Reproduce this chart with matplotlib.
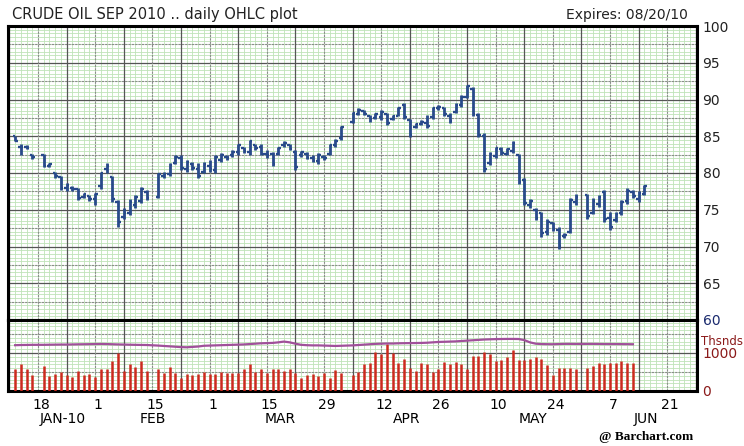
import numpy as np
import pandas as pd
import matplotlib
matplotlib.use('Agg')
import matplotlib.pyplot as plt
import matplotlib.transforms as mtransforms

# trading days shown (holidays leave an empty slot)
start, price_end, vol_end = '2010-01-12', '2010-06-15', '2010-06-11'
holidays = ['2010-01-18', '2010-02-15', '2010-04-02', '2010-05-31']

highs = [85.0, 83.9, 83.8, 82.6,
         82.6, 81.4, 80.1, 79.6, 78.7, 78.2, 78.0, 77.3, 77.0, 77.3,
         80.2, 81.3, 79.6, 76.3, 75.2, 76.4, 77.0, 78.1, 77.7,
         80.0, 80.2, 81.3, 82.5, 82.4, 81.8, 81.5, 81.3, 81.5, 81.8,
         82.4, 82.7, 82.4, 83.1, 84.0, 83.6, 84.5, 84.0, 84.0, 83.1,
         82.9, 83.6, 84.3, 84.0, 83.1, 83.0, 82.9, 82.4, 82.7, 82.4,
         84.0, 84.6, 86.4,
         88.3, 88.8, 88.6, 87.9, 88.1, 88.6, 88.1, 87.9, 89.0, 89.5,
         87.4, 86.8, 87.2, 87.9, 89.0, 89.2, 89.0, 88.1, 89.5, 90.6,
         92.0, 91.7, 88.1, 85.4, 82.9, 83.6, 83.6, 83.4, 84.3, 82.6,
         79.3, 76.5, 75.2, 74.7, 73.8, 73.4, 72.6, 71.8, 76.6, 77.2,
         77.2, 76.6, 77.0, 77.7, 74.7, 74.7, 76.3, 77.9, 77.7, 77.5, 78.4]
lows = [84.3, 82.4, 83.3, 81.9,
        80.8, 80.8, 79.3, 77.7, 77.5, 77.6, 76.3, 76.6, 76.2, 75.6,
        77.8, 80.0, 76.1, 72.6, 73.8, 74.3, 75.2, 75.9, 76.3,
        76.6, 79.3, 79.6, 81.2, 80.4, 80.2, 80.4, 79.3, 80.0, 80.2,
        80.0, 81.5, 81.8, 82.2, 82.4, 82.7, 82.4, 83.1, 82.4, 82.0,
        80.9, 82.4, 83.6, 83.1, 80.4, 82.2, 81.9, 81.5, 81.2, 81.8,
        82.4, 83.6, 84.5,
        86.8, 87.9, 87.9, 87.0, 87.4, 87.2, 86.5, 87.2, 87.7, 87.4,
        84.9, 86.1, 86.5, 86.1, 87.4, 88.6, 87.7, 86.8, 88.1, 89.0,
        90.2, 87.7, 84.9, 80.2, 81.1, 82.0, 82.4, 82.4, 82.7, 78.5,
        75.6, 75.2, 73.6, 71.3, 71.6, 72.1, 69.7, 71.2, 71.8, 75.6,
        73.8, 74.4, 75.4, 73.4, 72.2, 73.4, 74.3, 75.8, 76.6, 76.1, 77.0]
opens = [85.0, 83.5, 83.6, 82.4,
         82.4, 81.0, 80.0, 79.5, 78.0, 78.0, 77.8, 76.8, 76.9, 76.4,
         78.2, 80.6, 79.4, 76.0, 74.0, 74.6, 75.6, 76.2, 77.4,
         76.8, 79.6, 79.8, 81.4, 82.0, 80.6, 81.2, 80.6, 80.2, 81.0,
         80.4, 81.8, 82.2, 82.4, 82.8, 83.4, 82.8, 83.8, 83.6, 82.6,
         82.6, 82.6, 83.8, 83.8, 82.8, 82.4, 82.6, 82.0, 81.6, 82.2,
         82.6, 83.8, 84.7,
         87.0, 88.0, 88.4, 87.8, 87.5, 87.6, 88.0, 87.4, 87.8, 89.2,
         87.2, 86.3, 86.6, 86.8, 87.6, 88.8, 88.8, 87.8, 88.3, 89.2,
         90.4, 91.4, 87.9, 85.0, 81.4, 82.3, 83.2, 82.6, 83.0, 82.4,
         79.0, 75.6, 75.0, 74.5, 72.0, 73.2, 72.3, 71.4, 72.0, 76.0,
         77.0, 74.6, 75.8, 77.4, 73.9, 73.6, 74.5, 76.2, 77.4, 76.4, 77.2]
closes = [84.4, 83.6, 83.4, 82.2,
          81.0, 81.2, 79.6, 77.9, 78.4, 77.8, 76.6, 77.1, 76.4, 77.1,
          80.0, 81.0, 76.4, 73.4, 74.6, 76.1, 76.8, 77.8, 76.6,
          79.8, 79.9, 81.1, 82.2, 80.7, 81.5, 80.7, 79.6, 81.2, 80.5,
          82.2, 82.4, 82.0, 82.9, 83.8, 83.0, 84.3, 83.4, 82.6, 82.4,
          81.2, 83.4, 84.1, 83.3, 80.8, 82.8, 82.1, 81.7, 82.4, 82.0,
          83.8, 84.4, 86.2,
          88.1, 88.6, 88.0, 87.3, 88.0, 88.3, 86.8, 87.7, 88.8, 87.6,
          85.2, 86.6, 87.0, 86.4, 88.8, 89.0, 88.0, 87.1, 89.3, 90.4,
          91.8, 88.0, 85.2, 80.6, 82.6, 83.4, 82.7, 83.2, 84.1, 78.8,
          75.9, 76.2, 73.9, 71.8, 73.4, 72.4, 70.1, 71.6, 76.3, 76.8,
          74.2, 76.2, 76.8, 73.7, 72.6, 74.4, 76.0, 77.6, 76.9, 77.3, 78.2]

# volume and open interest, thousands of contracts
volume = [570, 710, 570, 420,
          660, 400, 440, 510, 420, 380, 535, 420, 440, 380,
          570, 570, 800, 990, 535, 700, 640, 800, 535,
          570, 480, 640, 480, 330, 440, 420, 450, 510, 450,
          440, 510, 480, 480, 480, 570, 710, 510, 570, 480,
          570, 570, 535, 570, 465, 330, 420, 440, 395, 480,
          330, 560, 480,
          420, 510, 710, 745, 1020, 975, 1240, 1010, 745, 835,
          615, 535, 745, 700, 510, 580, 770, 710, 770, 710,
          570, 920, 920, 1035, 975, 800, 815, 900, 1080, 815,
          815, 835, 900, 835, 685, 420, 615, 595, 595, 570,
          595, 660, 730, 710, 730, 730, 790, 730, 745]
open_int = [1205, 1210, 1212, 1215,
            1215, 1218, 1220, 1222, 1222, 1225, 1228, 1230, 1232, 1235,
            1238, 1235, 1230, 1225, 1222, 1218, 1215, 1212, 1210,
            1195, 1185, 1175, 1165, 1155, 1150, 1160, 1170, 1190, 1195,
            1200, 1205, 1210, 1215, 1220, 1225, 1235, 1245, 1255, 1260,
            1265, 1280, 1300, 1280, 1245, 1215, 1205, 1200, 1200, 1195,
            1190, 1185, 1190,
            1200, 1210, 1220, 1230, 1240, 1245, 1250, 1250, 1255, 1258,
            1260, 1262, 1265, 1270, 1280, 1290, 1295, 1300, 1305, 1315,
            1325, 1335, 1345, 1355, 1360, 1365, 1368, 1370, 1370, 1368,
            1340, 1280, 1245, 1235, 1232, 1230, 1235, 1240, 1240, 1238,
            1240, 1240, 1238, 1236, 1235, 1235, 1233, 1232, 1230]

label_dates = ['2010-01-18', '2010-02-01', '2010-02-15', '2010-03-01',
               '2010-03-15', '2010-03-29', '2010-04-12', '2010-04-26',
               '2010-05-10', '2010-05-24', '2010-06-07', '2010-06-21']
day_labels = ['18', '1', '15', '1', '15', '29', '12', '26', '10', '24', '7', '21']
month_labels = ['JAN-10', 'FEB', 'MAR', 'APR', 'MAY', 'JUN']

origin = '2010-01-18'
def tpos(dates):
    return np.busday_count(origin, np.array(dates, dtype='datetime64[D]'))

def trading(a, b):
    d = pd.bdate_range(a, b)
    d = d[~d.isin(pd.to_datetime(holidays))]
    return tpos(d.strftime('%Y-%m-%d'))

xp = trading(start, price_end)
xv = trading(start, vol_end)

blue = '#284a8a'
red = '#cc2a1e'
purple = '#a0509a'

fig = plt.figure(figsize=(7.44, 4.46), dpi=100)
W, H = 744, 446
ax = fig.add_axes([8 / W, 1 - 320 / H, 689 / W, 294 / H])
axv = fig.add_axes([8 / W, 1 - 391 / H, 689 / W, 71 / H])
x0, x1 = -5.24, 115.2
vmax = 1868

def grid(a, ylo, yhi, fine, mid, major):
    days = np.arange(-5, 116)
    a.vlines(days, ylo, yhi, color='#bfe3b8', lw=0.6, zorder=0)
    a.hlines(np.arange(ylo, yhi + 1e-6, fine), x0, x1, color='#bfe3b8', lw=0.6, zorder=0)
    a.hlines(np.arange(ylo + mid, yhi, major), x0, x1, color='#8c8c8c', lw=0.8,
             linestyles=(0, (2, 1)), zorder=1)
    a.hlines(np.arange(ylo, yhi + 1e-6, major), x0, x1, color='#555555', lw=0.9, zorder=1)
    a.vlines(np.arange(0, 116, 10), ylo, yhi, color='#8c8c8c', lw=0.8,
             linestyles=(0, (2, 1)), zorder=1)
    a.vlines(np.arange(-5, 116, 10), ylo, yhi, color='#555555', lw=0.9, zorder=1)

grid(ax, 60, 100, 0.5, 2.5, 5)
grid(axv, 0, vmax, 100, 500, 1000)

# OHLC bars
xp = np.asarray(xp, dtype=float)
ax.vlines(xp, lows, highs, color=blue, lw=2.0, zorder=3)
ax.hlines(opens, xp - 0.45, xp, color=blue, lw=1.7, zorder=3)
ax.hlines(closes, xp, xp + 0.45, color=blue, lw=1.7, zorder=3)

# volume + open interest
axv.vlines(xv, 0, volume, color=red, lw=1.8, zorder=3)
axv.plot(xv, open_int, color=purple, lw=1.6, zorder=4)

for a in (ax, axv):
    a.set_xlim(x0, x1)
    for s in a.spines.values():
        s.set_linewidth(2.2)
        s.set_color('black')
    a.yaxis.tick_right()
    a.tick_params(axis='both', length=0, labelsize=10, pad=4)

ax.set_ylim(60, 100)
ax.set_yticks(np.arange(60, 101, 5))
ax.set_xticks([])
for lab in ax.get_yticklabels():
    lab.set_color('#1a2a6e' if lab.get_text() == '60' else '#222222')

axv.set_ylim(0, vmax)
axv.set_yticks([0, 1000])
axv.set_yticklabels(['0', '1000'], color='#8b1a1a')
axv.text(1.006, 1315, 'Thsnds', color='#8b1a1a', fontsize=8.5, va='center', ha='left',
         transform=mtransforms.blended_transform_factory(axv.transAxes, axv.transData),
         clip_on=False)

axv.set_xticks(tpos(label_dates) + 0.5)
axv.set_xticklabels(day_labels, fontsize=10)
axv.tick_params(axis='x', pad=5)
month_x = [4.3, 20, 42.3, 64.5, 86.5, 106.3]
trans = mtransforms.blended_transform_factory(axv.transData, fig.transFigure)
for mx, m in zip(month_x, month_labels):
    axv.text(mx, 1 - 419 / H, m, fontsize=10, ha='center', va='center', transform=trans)

fig.text(12 / W, 1 - 14 / H, 'CRUDE OIL SEP 2010 .. daily OHLC plot', fontsize=10.5,
         ha='left', va='center', color='#222222')
fig.text(688 / W, 1 - 15 / H, 'Expires: 08/20/10', fontsize=10, ha='right', va='center',
         color='#222222')
fig.text(693 / W, 1 - 437 / H, '@ Barchart.com', fontsize=9.5, fontweight='bold',
         family='Liberation Serif', ha='right', va='center')

fig.savefig('out.png', dpi=100)
